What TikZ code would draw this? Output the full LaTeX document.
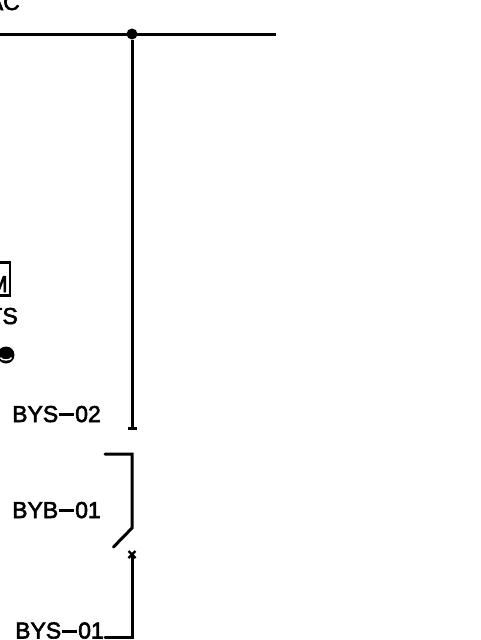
\documentclass[tikz,border=0pt]{standalone}
\usepackage{fontspec}
\setmainfont[FakeBold=2.6]{Liberation Sans}
\tikzset{
  wire/.style={line width=3pt,black,line cap=round},
  lbl/.style={inner sep=0pt,font=\fontsize{23}{23}\selectfont,anchor=base west},
  tick/.style={line width=2.4pt,black}
}
\newcommand{\dsh}{\kern0.5pt\rule[5.9pt]{15pt}{3pt}\kern1.5pt}
\begin{document}
\begin{tikzpicture}[x=1pt,y=-1pt]
\useasboundingbox (0,0) rectangle (480,640);
% text labels
\node[lbl,anchor=base east] (ac) at (20,10) {AC};
\node[lbl] (bys2) at (12,422) {BYS\dsh 02};
\node[lbl] (byb) at (12,518) {BYB\dsh 01};
\node[lbl] (bys1) at (15,638.5) {BYS\dsh 01};
\node[lbl,anchor=base east] (ts) at (18,324) {TS};
% M box
\node[lbl,anchor=base east] (m) at (8,292) {M};
\coordinate (mr1) at (-3,262.5);
\coordinate (mr2) at (10,262.5);
\coordinate (mr3) at (10,295.5);
\coordinate (mr4) at (-3,295.5);
\draw[line width=2.6pt] (mr1) -- (mr2) -- (mr3) -- (mr4);
% lamp
\node[circle,fill=black,minimum size=17pt,inner sep=0pt] (lamp) at (6,355) {};
\draw[white,line width=1.4pt] (0.5,357.5) arc[start angle=180,end angle=360,x radius=5.5pt,y radius=2.5pt];
% bus
\coordinate (busl) at (-2,34);
\coordinate (busr) at (276,34);
\node[circle,fill=black,minimum size=11pt,inner sep=0pt] (dot) at (132,34) {};
\draw[wire,line cap=butt] (busl) -- (busr);
% upper feeder
\coordinate (t2) at (132,428);
\draw[wire,line cap=butt] (dot) -- (t2);
\coordinate (t2l) at (128,428.5);
\coordinate (t2r) at (137,428.5);
\draw[tick] (t2l) -- (t2r);
% breaker
\coordinate (a) at (105,454);
\coordinate (b) at (132,454);
\coordinate (c) at (132,528);
\coordinate (d) at (113.5,547);
\draw[wire,line join=miter] (a) -- (b) -- (c) -- (d);
% lower feeder
\coordinate (x) at (132,554);
\coordinate (e) at (132,637);
\coordinate (f) at (105,637);
\draw[wire,line join=miter] (x) -- (e) -- (f);
\draw[line width=2.2pt] (128.5,551) -- (135.5,558) (135.5,551) -- (128.5,558);
\end{tikzpicture}
\end{document}
